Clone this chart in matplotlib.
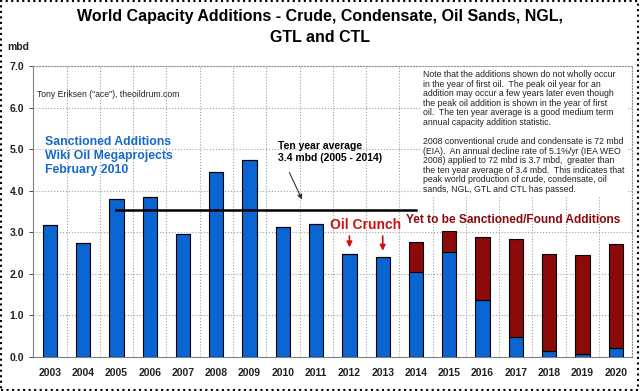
import numpy as np
import matplotlib.pyplot as plt
from matplotlib.patches import Rectangle

plt.rcParams['font.family'] = ['Liberation Sans', 'DejaVu Sans']

years = ['2003', '2004', '2005', '2006', '2007', '2008', '2009', '2010', '2011',
         '2012', '2013', '2014', '2015', '2016', '2017', '2018', '2019', '2020']
sanctioned = [3.17, 2.75, 3.79, 3.86, 2.95, 4.45, 4.75, 3.13, 3.21,
              2.49, 2.41, 2.05, 2.53, 1.38, 0.47, 0.14, 0.06, 0.21]
yet_to_find = [0, 0, 0, 0, 0, 0, 0, 0, 0,
               0, 0, 0.71, 0.51, 1.51, 2.36, 2.35, 2.40, 2.51]
avg_level = 3.53
avg_span = ['2005', '2014']
crunch_years = ['2012', '2013']

blue = '#0a64d2'
red = '#8b0a0a'

fig = plt.figure(figsize=(6.4, 3.91), dpi=100)
ax = fig.add_axes([0.052, 0.087, 0.936, 0.744])

x = np.arange(len(years))
ax.bar(x, sanctioned, width=0.43, color=blue, edgecolor='black', linewidth=0.8, zorder=3)
ax.bar(x, yet_to_find, width=0.43, bottom=sanctioned, color=red, edgecolor='black',
       linewidth=0.8, zorder=3)

ax.set_xlim(-0.5, len(years) - 0.5)
ax.set_ylim(0, 7)
ax.set_yticks(np.arange(0, 7.5, 1.0))
ax.set_yticklabels(['%.1f' % v for v in np.arange(0, 7.5, 1.0)])
ax.set_xticks(x)
ax.set_xticklabels(years)
ax.tick_params(axis='both', labelsize=7.5, colors='#222222', length=3, width=0.6)
for t in ax.get_xticklabels() + ax.get_yticklabels():
    t.set_fontweight('bold')
ax.tick_params(axis='x', length=0, pad=8)

# dotted grid: horizontal at each value, vertical between categories
for v in np.arange(1, 7.5, 1.0):
    ax.axhline(v, color='#a0a0a0', linestyle=':', linewidth=0.8, zorder=1)
for b in np.arange(0.5, len(years) - 0.5, 1.0):
    ax.axvline(b, color='#a0a0a0', linestyle=':', linewidth=0.8, zorder=1)

for s in ['top', 'right']:
    ax.spines[s].set_linestyle(':')
    ax.spines[s].set_color('#909090')
for s in ['left', 'bottom']:
    ax.spines[s].set_color('#808080')
    ax.spines[s].set_linewidth(0.8)

# ten year average line
i0, i1 = years.index(avg_span[0]), years.index(avg_span[1])
ax.plot([i0, i1], [avg_level, avg_level], color='black', linewidth=1.8, zorder=4)
ax.text(6.86, 4.93, 'Ten year average\n3.4 mbd (2005 - 2014)', fontsize=7.5,
        fontweight='bold', va='center', ha='left', linespacing=1.2, zorder=5)
ax.annotate('', xy=(7.61, 3.73), xytext=(7.16, 4.5),
            arrowprops=dict(arrowstyle='-|>', color='#333333', lw=0.8, mutation_scale=7))

ax.text(-0.14, 4.84, 'Sanctioned Additions\nWiki Oil Megaprojects\nFebruary 2010',
        color='#1569c7', fontsize=8.8, fontweight='bold', va='center', ha='left',
        linespacing=1.2, zorder=5)

ax.text(-0.38, 6.31, 'Tony Eriksen ("ace"), theoildrum.com', fontsize=6.2,
        color='#222222', va='center', ha='left', zorder=5)

note = ('Note that the additions shown do not wholly occur\n'
        'in the year of first oil.  The peak oil year for an\n'
        'addition may occur a few years later even though\n'
        'the peak oil addition is shown in the year of first\n'
        'oil.  The ten year average is a good medium term\n'
        'annual capacity addition statistic.\n'
        '\n'
        '2008 conventional crude and condensate is 72 mbd\n'
        '(EIA).  An annual decline rate of 5.1%/yr (IEA WEO\n'
        '2008) applied to 72 mbd is 3.7 mbd,  greater than\n'
        'the ten year average of 3.4 mbd.  This indicates that\n'
        'peak world production of crude, condensate, oil\n'
        'sands, NGL, GTL and CTL has passed.')
ax.text(11.22, 6.9, note, fontsize=6.3, color='#222222', va='top', ha='left',
        linespacing=1.08, zorder=5,
        bbox=dict(facecolor='white', edgecolor='none', pad=2))

ax.text(9.48, 3.17, 'Oil Crunch', color='#cc1010', fontsize=10, fontweight='bold',
        va='center', ha='center', zorder=5)
for yr in crunch_years:
    i = years.index(yr)
    ax.annotate('', xy=(i, sanctioned[i] + 0.08), xytext=(i, 2.98),
                arrowprops=dict(arrowstyle='-|>', color='#cc1010', lw=1.2, mutation_scale=8))
ax.text(10.71, 3.29, 'Yet to be Sanctioned/Found Additions', color=red, fontsize=8.6,
        fontweight='bold', va='center', ha='left', zorder=5)

fig.text(0.5, 0.931, 'World Capacity Additions - Crude, Condensate, Oil Sands, NGL,\nGTL and CTL',
         ha='center', va='center', fontsize=11.5, fontweight='bold', linespacing=1.45)
fig.text(0.012, 0.872, 'mbd', fontsize=7.5, fontweight='bold', color='#222222')

fig.patches.append(Rectangle((0.002, 0.003), 0.995, 0.994, transform=fig.transFigure,
                             fill=False, edgecolor='black', linestyle=':', linewidth=1.5))

fig.savefig('out.png', dpi=100)
